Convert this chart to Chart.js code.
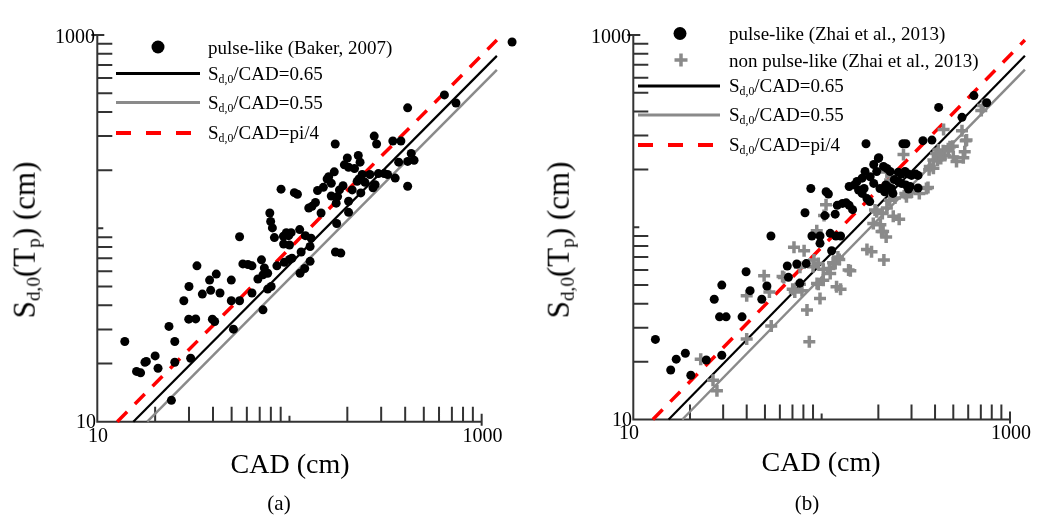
<!DOCTYPE html>
<html>
<head>
<meta charset="utf-8">
<script src="https://cdn.jsdelivr.net/npm/chart.js@4.4.1/dist/chart.umd.min.js"></script>
<style>
  body { margin: 0; background: #fff; width: 1041px; height: 519px; overflow: hidden; position: relative;
         font-family: "Liberation Serif", "Times New Roman", serif; color: #000; }
  canvas { position: absolute; top: 0; }
  .t { position: absolute; white-space: nowrap; line-height: 1; }
  .sub { font-size: 0.62em; vertical-align: -0.28em; }
</style>
</head>
<body>
<canvas id="chart-a" width="520" height="519" style="left:0"></canvas>
<canvas id="chart-b" width="521" height="519" style="left:520px"></canvas>
<script>
// values: [CAD (cm), Sd,0(Tp) (cm)]
const bakerPulse = [
  [13.9, 26], [16, 18.2], [16.8, 17.9], [17.7, 20.3], [18, 20.5], [20, 21.9], [20.7, 18.9], [23.6, 31.1],
  [25.3, 26], [25.3, 20.3], [24.3, 12.9], [28.2, 42.2], [30, 50], [29.9, 33.9], [32.5, 34], [30.6, 21.3],
  [33, 64], [35.2, 45.7], [38.4, 54], [41.6, 58], [38.9, 47.8], [39.7, 33.9], [40.8, 33], [43.5, 46.3],
  [49.8, 54], [49.8, 42.2], [51.1, 30.1], [55, 90.5], [55, 42.2], [57.2, 65.5], [60.8, 65], [63.8, 64],
  [63.8, 46.3], [68.5, 54.7], [71.5, 68.7], [72.8, 37.9], [74, 62.4], [72.8, 57.5], [77, 58.6], [77, 48.5],
  [80.3, 50], [79, 120], [79.8, 108.5], [81.5, 100.5], [83.5, 89.6], [86, 64], [90.4, 159.5], [93, 91],
  [96.3, 95], [99, 91.7], [102, 95], [93.2, 83], [100, 82], [103, 70], [106, 153], [110, 150],
  [113, 98.5], [113.5, 58.6], [115, 75.5], [121, 91.7], [126, 127.5], [131, 130], [128, 80.6], [129.5, 89],
  [128, 67.5], [136.5, 136], [140, 157], [146, 120], [157, 180], [160, 185], [165, 171], [165, 147],
  [171, 196], [173, 273], [175, 135], [178, 146], [173.5, 75.5], [185, 74.5], [176, 106], [182, 158],
  [193, 213], [200, 231], [203, 207], [203, 121], [203, 138], [212, 158], [218, 204], [228, 238],
  [233, 220], [225, 175], [230, 180], [235, 152.5], [239, 190], [247, 173], [262, 190], [276, 300],
  [284, 273], [272, 162], [279, 168], [290, 192], [311, 192], [324, 190], [345, 283], [355, 182],
  [380, 283], [370, 220], [412, 420], [412, 165], [412, 222], [430, 244], [445, 225], [640, 490],
  [735, 445], [1440, 920], [94, 66.7], [100, 69], [150, 163], [190, 166], [120, 62]
];

const zhaiPulse = [
  [13.1, 26.1], [15.8, 18.1], [16.9, 20.6], [18.9, 22.1], [20.2, 17], [24.4, 20.4], [29.5, 21.6], [26.9, 42.2],
  [29.5, 50], [28.7, 34.2], [31.1, 34.2], [37.8, 34.2], [39.7, 58.7], [41.7, 46.8], [48.1, 42.2], [51.2, 49.5],
  [53.8, 90], [65.7, 62.9], [73.8, 64.4], [66.6, 54.9], [76.6, 51.2], [82.8, 64.7], [81.6, 119], [87.6, 159],
  [88.8, 90], [98, 90], [98, 82.5], [105.6, 153], [108.6, 149], [104, 115], [111, 93], [119, 90],
  [126, 90], [113, 75.5], [118, 117], [121, 130], [129, 133], [135, 134], [140, 130], [146, 123.5],
  [140, 163], [149, 166], [154, 173], [164, 180], [157, 156], [164, 150], [168, 159], [172, 272],
  [170, 195], [174, 141], [180, 136], [189, 212], [200, 228], [196, 195], [181, 183], [189, 169],
  [201, 230], [204, 159], [216, 153], [223, 163], [213, 207], [222, 202], [231, 195], [219, 166],
  [235, 159], [239, 150], [243, 177], [270, 272], [280, 272], [255, 193], [265, 189], [277, 195],
  [289, 189], [300, 186], [316, 189], [325, 186], [255, 173], [265, 169], [280, 166], [295, 163],
  [289, 158], [325, 160], [345, 282], [385, 284], [418, 420], [556, 373], [643, 484], [752, 444]
];

const zhaiNonPulse = [
  [22.8, 20.6], [26.5, 16], [27.8, 14.1], [40, 26.2], [40, 44], [54, 30.6], [49.5, 56], [52.8, 46.1],
  [62, 55.4], [71.3, 78.7], [80.7, 75.5], [76.7, 62], [70.2, 47.6], [76.7, 50.6], [83.6, 37.1], [86, 25.4],
  [78.6, 46.8], [94.2, 96], [91, 67.5], [96, 50.6], [105.5, 131], [103, 115], [110, 61], [111, 57.5],
  [115, 65.4], [124, 68], [126, 47.6], [142, 59.4], [174, 76.7], [184, 74.5], [188, 104.6], [205, 103],
  [208, 95], [214, 67.5], [196, 120.5], [210, 118], [222, 126], [240, 114], [258, 110], [231, 176],
  [272, 239], [300, 152.5], [367, 161], [444, 322], [556, 318], [582, 282], [565, 230], [392, 224],
  [412, 224], [429, 228], [451, 236], [372, 199], [392, 203], [416, 252], [442, 250], [470, 256],
  [497, 264], [520, 220], [720, 430], [704, 405], [588, 284], [480, 262], [405, 242], [375, 207],
  [500, 232], [575, 247], [330, 150], [282, 144], [63, 54.8], [72, 46], [90, 62.3], [96, 64.7],
  [102, 60.4], [118, 64.7], [122, 70], [94.5, 51], [102, 53], [139, 60], [98, 42.6], [120, 49],
  [192, 123], [212, 95], [220, 89], [230, 138], [245, 142], [222, 194], [278, 150], [289, 153], [360, 159]
];

// Sd,0/CAD ratio lines, from the bottom axis to their upper end
const ratio065 = [[15.4, 10], [1200, 780]];
const ratio055 = [[18.2, 10], [1200, 660]];
const ratioPi4 = [[12.7, 10], [1200, 942]];

const axisTicks = [20, 30, 40, 50, 60, 70, 80, 90, 200, 300, 400, 500, 600, 700, 800, 900];

const RED = '#ff0000';
const GREY = '#8a8a8a';
const AXIS = '#333';

const toPts = (arr) => arr.map(([x, y]) => ({ x, y }));

function lineSet(pairs, color, width, dash) {
  return {
    data: toPts(pairs), showLine: true, borderColor: color, borderWidth: width,
    borderDash: dash || [], pointRadius: 0, clip: false, order: 5,
  };
}

const axesPlugin = {
  id: 'logAxes',
  beforeDatasetsDraw(chart) {
    const { ctx } = chart;
    const { x, y } = chart.scales;
    const x0 = x.getPixelForValue(10), x1 = x.getPixelForValue(1000);
    const y0 = y.getPixelForValue(10), y1 = y.getPixelForValue(1000);
    ctx.save();
    ctx.strokeStyle = AXIS;
    ctx.lineWidth = 2;
    ctx.beginPath();
    ctx.moveTo(x0, y1); ctx.lineTo(x0, y0); ctx.lineTo(x1 + 1, y0);
    axisTicks.forEach((v) => {
      const px = x.getPixelForValue(v);
      ctx.moveTo(px, y0); ctx.lineTo(px, y0 - 15);
      const py = y.getPixelForValue(v);
      ctx.moveTo(x0, py); ctx.lineTo(x0 + 15, py);
    });
    const p100x = x.getPixelForValue(100), p100y = y.getPixelForValue(100);
    ctx.moveTo(p100x, y0); ctx.lineTo(p100x, y0 - 6);
    ctx.moveTo(x0, p100y); ctx.lineTo(x0 + 6, p100y);
    ctx.moveTo(x0 - 6, y1); ctx.lineTo(x0 + 7, y1);
    ctx.moveTo(x1, y0 + 4); ctx.lineTo(x1, y0 - 8);
    ctx.stroke();
    ctx.restore();
  },
};

// legend samples, positions in canvas pixels
function legendPlugin(items) {
  return {
    id: 'legendSamples',
    afterDraw(chart) {
      const ctx = chart.ctx;
      ctx.save();
      items.forEach((it) => {
        if (it.kind === 'dot') {
          ctx.fillStyle = '#000';
          ctx.beginPath(); ctx.arc(it.x, it.y, 6.5, 0, Math.PI * 2); ctx.fill();
        } else if (it.kind === 'plus') {
          ctx.strokeStyle = GREY; ctx.lineWidth = 3.5;
          ctx.beginPath();
          ctx.moveTo(it.x - 6.5, it.y); ctx.lineTo(it.x + 6.5, it.y);
          ctx.moveTo(it.x, it.y - 6.5); ctx.lineTo(it.x, it.y + 6.5);
          ctx.stroke();
        } else {
          ctx.strokeStyle = it.color; ctx.lineWidth = it.width;
          ctx.setLineDash(it.dash || []);
          ctx.beginPath(); ctx.moveTo(it.x, it.y); ctx.lineTo(it.x2, it.y); ctx.stroke();
          ctx.setLineDash([]);
        }
      });
      ctx.restore();
    },
  };
}

function makeChart(id, datasets, xMax, padding, legendItems) {
  return new Chart(document.getElementById(id), {
    type: 'scatter',
    data: { datasets },
    options: {
      responsive: false,
      animation: false,
      devicePixelRatio: 1,
      layout: { padding },
      plugins: { legend: { display: false }, tooltip: { enabled: false } },
      scales: {
        x: { type: 'logarithmic', min: 10, max: xMax, display: false },
        y: { type: 'logarithmic', min: 10, max: 1000, display: false },
      },
    },
    plugins: [axesPlugin, legendPlugin(legendItems)],
  });
}

const dots = (pairs) => ({
  data: toPts(pairs), pointRadius: 4.5, pointBackgroundColor: '#000', pointBorderWidth: 0,
  clip: false, order: 0,
});

// panel (a): the x range runs on past 1000 so the last point stays inside the drawing area
makeChart('chart-a', [
  dots(bakerPulse),
  lineSet(ratio065, '#000', 2.2),
  lineSet(ratio055, GREY, 2.5),
  lineSet(ratioPi4, RED, 3.5, [14, 11]),
], 1500, { left: 97.3, top: 35, right: 3.4, bottom: 97.3 }, [
  { kind: 'dot', x: 158, y: 47 },
  { kind: 'line', x: 116, x2: 200, y: 73.5, color: '#000', width: 3 },
  { kind: 'line', x: 116, x2: 200, y: 102.5, color: GREY, width: 3 },
  { kind: 'line', x: 116, x2: 200, y: 133, color: RED, width: 4, dash: [15, 15] },
]);

makeChart('chart-b', [
  dots(zhaiPulse),
  {
    data: toPts(zhaiNonPulse), pointStyle: 'cross', pointRadius: 6, pointBorderWidth: 3.5,
    pointBorderColor: GREY, clip: false, order: 1,
  },
  lineSet(ratio065, '#000', 2.2),
  lineSet(ratio055, GREY, 2.5),
  lineSet(ratioPi4, RED, 3.5, [14, 11]),
], 1000, { left: 113.3, top: 35, right: 31, bottom: 99.5 }, [
  { kind: 'dot', x: 160, y: 33.5 },
  { kind: 'plus', x: 161, y: 60 },
  { kind: 'line', x: 118, x2: 200, y: 86, color: '#000', width: 3 },
  { kind: 'line', x: 118, x2: 200, y: 115, color: GREY, width: 3 },
  { kind: 'line', x: 118, x2: 200, y: 145, color: RED, width: 4, dash: [15, 15] },
]);

// text, placed by baseline
function addText(html, x, base, size, align) {
  const el = document.createElement('div');
  el.className = 't';
  el.innerHTML = html;
  el.style.fontSize = size + 'px';
  el.style.left = x + 'px';
  el.style.top = (base - 0.8375 * size) + 'px';
  if (align === 'center') el.style.transform = 'translateX(-50%)';
  if (align === 'right') el.style.transform = 'translateX(-100%)';
  document.body.appendChild(el);
}

function addYTitle(cx, cy, size) {
  const el = document.createElement('div');
  el.className = 't';
  el.innerHTML = 'S<span class="sub">d,0</span>(T<span class="sub">p</span>) (cm)';
  el.style.fontSize = size + 'px';
  el.style.left = cx + 'px';
  el.style.top = cy + 'px';
  el.style.transform = 'translate(-50%, -50%) rotate(-90deg)';
  document.body.appendChild(el);
}

const SD = 'S<span class="sub">d,0</span>/CAD=';

// panel (a)
addText('1000', 95, 42.5, 20, 'right');
addText('10', 96, 428, 20, 'right');
addText('10', 98, 442, 20, 'center');
addText('1000', 482.5, 442, 20, 'center');
addText('CAD (cm)', 290, 473, 28, 'center');
addText('(a)', 279, 511, 21, 'center');
addYTitle(26, 240, 31);
addText('pulse-like (Baker, 2007)', 208, 54, 19);
addText(SD + '0.65', 208, 80, 19);
addText(SD + '0.55', 208, 109, 19);
addText(SD + 'pi/4', 208, 138.5, 19);

// panel (b)
addText('1000', 631, 42.5, 20, 'right');
addText('10', 632, 426, 20, 'right');
addText('10', 629, 439, 20, 'center');
addText('1000', 1011, 439, 20, 'center');
addText('CAD (cm)', 821, 471, 28, 'center');
addText('(b)', 807, 511, 21, 'center');
addYTitle(560, 240, 31);
addText('pulse-like (Zhai et al., 2013)', 729, 40, 19);
addText('non pulse-like (Zhai et al., 2013)', 729, 66.5, 19);
addText(SD + '0.65', 729, 92, 19);
addText(SD + '0.55', 729, 121, 19);
addText(SD + 'pi/4', 729, 150.5, 19);
</script>
</body>
</html>
